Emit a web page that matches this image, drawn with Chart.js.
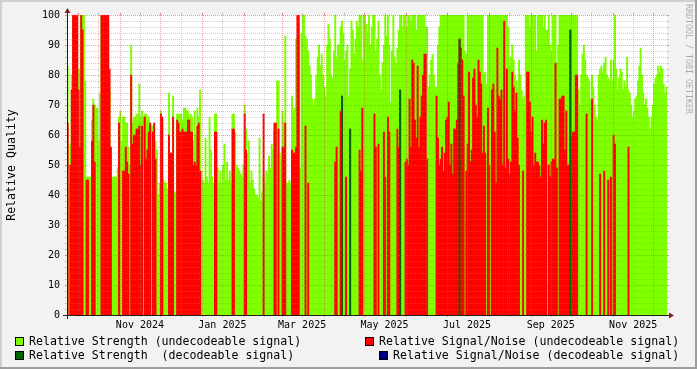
<!DOCTYPE html>
<html><head><meta charset="utf-8">
<script src="https://cdn.jsdelivr.net/npm/chart.js@4.4.1/dist/chart.umd.min.js"></script>
<style>html,body{margin:0;padding:0;background:#f2f2f2;}canvas{display:block;}</style>
</head><body>
<canvas id="c" width="697" height="369"></canvas>
<script>
// ---------------- DATA ----------------
const startDate = '2024-09-23';   // first day of the series (one value per day)
const strengthUndecodeable = [
83,44,57,80,100,100,100,100,82,82,
100,100,100,78,46,46,46,46,65,72,
70,69,69,58,74,100,100,100,100,100,
98,76,46,46,46,46,46,49,66,68,
58,66,66,64,64,56,50,90,64,66,
66,67,67,77,66,68,66,67,67,65,
66,62,63,63,62,58,55,40,44,68,
46,45,44,44,42,74,45,41,73,41,
41,67,67,67,67,65,69,69,68,68,
66,67,66,58,68,60,69,66,75,48,
45,44,59,46,44,66,55,46,44,67,
67,49,44,48,44,50,57,45,51,45,
48,44,67,67,61,50,49,48,47,46,
50,70,62,54,58,44,48,45,42,40,
40,39,59,38,41,46,44,48,47,53,
49,57,55,61,62,78,78,54,52,68,
64,93,44,44,45,44,73,68,69,92,
92,96,49,94,100,100,93,92,88,83,
80,72,70,72,80,86,90,83,87,80,
76,73,90,97,92,80,79,88,100,86,
90,90,96,98,94,85,88,90,73,82,
98,95,87,92,98,96,100,100,85,100,
100,97,94,100,90,96,100,100,88,92,
98,80,75,84,90,100,93,100,90,71,
88,100,86,84,89,95,100,100,96,100,
100,96,100,100,98,100,100,100,95,100,
100,100,100,100,100,96,96,76,80,85,
87,80,76,76,90,96,100,100,100,100,
100,100,100,100,100,100,100,100,100,100,
100,100,100,100,88,87,100,100,100,100,
100,100,100,100,100,100,100,100,80,81,
77,100,100,100,100,100,100,100,100,100,
100,100,100,100,100,100,96,83,86,90,
85,80,78,75,85,80,75,72,73,100,
100,100,96,100,100,100,100,88,100,100,
100,100,96,100,95,95,100,90,88,100,
100,100,84,90,100,100,100,100,100,100,
100,100,100,100,100,100,100,100,75,70,
80,87,90,85,80,79,78,72,80,76,
70,66,65,80,82,83,81,84,86,80,
79,78,85,78,85,100,82,75,79,82,
81,75,78,76,86,75,74,70,66,68,
72,73,78,83,89,80,74,70,72,69,
66,62,66,70,77,79,80,83,81,83,
82,77,74,76
];
const snrUndecodeable = [
64,0,50,75,100,100,100,100,75,56,
100,95,0,0,45,45,0,0,58,70,
51,0,0,0,0,100,100,100,100,100,
100,82,56,0,0,0,0,0,64,0,
0,48,48,56,51,47,0,80,57,60,
60,62,62,63,50,63,0,66,52,55,
61,64,0,61,64,52,0,0,0,67,
66,0,0,0,0,60,54,54,66,0,
0,65,64,61,61,62,61,61,61,65,
65,61,61,50,51,50,63,64,48,0,
0,0,0,0,0,0,0,0,0,61,
61,0,0,0,0,0,0,0,0,0,
0,0,62,62,0,0,0,0,0,0,
0,67,55,0,0,0,0,0,0,0,
0,0,0,0,0,67,0,0,0,0,
0,0,0,64,64,0,62,0,0,56,
56,64,0,0,0,0,55,54,54,56,
100,100,0,0,0,0,63,0,44,0,
0,0,0,0,0,0,0,0,0,0,
0,0,0,0,0,0,0,0,51,56,
0,0,68,73,0,0,46,0,0,62,
0,0,0,0,0,0,55,48,69,0,
0,0,0,0,0,0,0,67,56,0,
57,0,0,0,61,46,0,66,61,0,
0,0,0,0,62,56,75,0,0,0,
51,52,50,72,56,85,84,65,59,83,
56,66,73,80,87,87,52,0,0,0,
0,0,0,73,59,50,52,56,48,54,
65,66,71,50,57,47,62,62,65,84,
92,89,85,73,0,48,57,81,51,55,
79,82,70,66,85,81,77,54,63,54,
0,69,50,0,75,77,61,44,89,73,
72,75,50,98,49,82,52,47,51,81,
76,68,74,59,50,0,0,48,0,0,
81,81,71,61,66,50,54,51,51,50,
46,65,57,64,65,0,50,46,51,52,
52,84,49,0,72,72,73,73,55,68,
50,50,95,60,61,61,80,80,0,0,
0,0,0,0,67,0,0,0,72,0,
0,0,0,0,47,0,0,48,0,0,
45,0,46,0,60,57,0,0,0,0,
0,0,0,0,0,56,0,0,0,0,
0,0,0,0,0,0,0,0,0,0,
0,0,0,0,0,0,0,0,0,0,
0,0,0,0
];
// decodeable signal: only a few days have values
const strengthDecodeableDates = ['2025-04-14','2025-04-20','2025-05-27','2025-07-10','2025-09-30'];
const strengthDecodeableVals  = [73, 62, 75, 92, 95];
const snrDecodeableDates = [];
const snrDecodeableVals  = [];
// x-axis labels (centred half a month after the month start)
const tickDates  = ['2024-11-16','2025-01-16','2025-03-16','2025-05-16','2025-07-16','2025-09-16','2025-11-16'];
const tickLabels = ['Nov 2024','Jan 2025','Mar 2025','May 2025','Jul 2025','Sep 2025','Nov 2025'];
const seriesNames = ['Relative Strength (undecodeable signal)','Relative Signal/Noise (undecodeable signal)',
                     'Relative Strength  (decodeable signal)','Relative Signal/Noise (decodeable signal)'];
const seriesColors = ['#7FFF00','#FF0000','#006400','#000080'];

// ---------------- BUILD ----------------
const DAY = 86400000;
const t0 = Date.parse(startDate + 'T00:00:00Z');
const nDays = strengthUndecodeable.length;
const dayLabels = Array.from({length: nDays}, (_, i) => new Date(t0 + i * DAY).toISOString().slice(0, 10));
const idxOf = s => Math.round((Date.parse(s + 'T00:00:00Z') - t0) / DAY);
const tickIdx = tickDates.map(idxOf);
const nz = a => a.map(v => (v > 0 ? v : null));
function sparse(dates, vals) {
  const a = new Array(nDays).fill(null);
  dates.forEach((d, k) => { a[idxOf(d)] = vals[k]; });
  return a;
}
const monthStarts = [], monthMids = [];
for (let i = 0; i < nDays; i++) {
  const dd = dayLabels[i].slice(8, 10);
  if (dd === '01') monthStarts.push(i);
  if (dd === '16') monthMids.push(i);
}

const FONT = 'DejaVu Sans Mono';
const GRID = 'rgba(143,143,143,0.4)';
const MGRID = 'rgba(222,79,79,0.55)';

const rrdPlugin = {
  id: 'rrd',
  beforeDraw(chart) {
    const c = chart.ctx, W = chart.width, H = chart.height, a = chart.chartArea;
    c.save();
    c.fillStyle = '#F2F2F2'; c.fillRect(0, 0, W, H);
    c.fillStyle = '#CFCFCF'; c.fillRect(0, 0, W, 2); c.fillRect(0, 0, 2, H);
    c.fillStyle = '#9E9E9E'; c.fillRect(0, H - 2, W, 2); c.fillRect(W - 2, 0, 2, H);
    c.fillStyle = '#FFFFFF'; c.fillRect(a.left, a.top, a.right - a.left, a.bottom - a.top);
    c.restore();
  },
  afterDatasetsDraw(chart) {
    const c = chart.ctx, a = chart.chartArea, xs = chart.scales.x, ys = chart.scales.y;
    const half = (xs.getPixelForValue(1) - xs.getPixelForValue(0)) / 2;
    c.save();
    // horizontal grid
    for (let v = 2; v <= 100; v += 2) {
      const y = Math.round(ys.getPixelForValue(v));
      const col = v % 10 === 0 ? MGRID : GRID;
      c.fillStyle = col;
      for (let x = a.left - 2; x < a.right + 2; x += 2) c.fillRect(x, y, 1, 1);
      c.fillRect(a.left - 2, y, 2, 1); c.fillRect(a.right, y, 2, 1);
    }
    // vertical grid
    const vline = (i, col) => {
      const x = Math.round(xs.getPixelForValue(i) - half);
      c.fillStyle = col;
      for (let y = a.top - 2; y < a.bottom + 2; y += 2) c.fillRect(x, y, 1, 1);
      c.fillRect(x, a.bottom, 1, 2); c.fillRect(x, a.top - 2, 1, 2);
    };
    monthMids.forEach(i => vline(i, GRID));
    monthStarts.forEach(i => vline(i, MGRID));
    // axes
    const x0 = a.left, y0 = a.bottom, x1 = a.right, y1 = a.top;
    c.strokeStyle = '#202020'; c.lineWidth = 1;
    c.beginPath(); c.moveTo(x0 - 4, y0 + 0.5); c.lineTo(x1 + 4, y0 + 0.5); c.stroke();
    c.beginPath(); c.moveTo(x0 + 0.5, y0 + 4); c.lineTo(x0 + 0.5, y1 - 4); c.stroke();
    c.fillStyle = '#802020';
    c.beginPath(); c.moveTo(x1 + 2, y0 - 3 + 0.5); c.lineTo(x1 + 2, y0 + 3 + 0.5); c.lineTo(x1 + 7, y0 + 0.5); c.closePath(); c.fill();
    c.beginPath(); c.moveTo(x0 - 3 + 0.5, y1 - 2); c.lineTo(x0 + 3 + 0.5, y1 - 2); c.lineTo(x0 + 0.5, y1 - 7); c.closePath(); c.fill();
    c.restore();
  },
  afterDraw(chart) {
    const c = chart.ctx;
    c.save();
    c.font = '11.6px "' + FONT + '"';
    c.textBaseline = 'alphabetic';
    const items = [
      {bx: 15, by: 337, tx: 29, ty: 345, k: 0},
      {bx: 365, by: 337, tx: 379, ty: 345, k: 1},
      {bx: 15, by: 351, tx: 29, ty: 359, k: 2},
      {bx: 379, by: 351, tx: 393, ty: 359, k: 3}
    ];
    items.forEach(it => {
      c.fillStyle = seriesColors[it.k];
      c.fillRect(it.bx, it.by, 9, 9);
      c.strokeStyle = '#000'; c.lineWidth = 1;
      c.strokeRect(it.bx + 0.5, it.by + 0.5, 8, 8);
      c.fillStyle = '#000';
      c.fillText(seriesNames[it.k], it.tx, it.ty);
    });
    // watermark
    c.translate(688, 4);
    c.rotate(Math.PI / 2);
    c.font = '8.3px "' + FONT + '"';
    c.fillStyle = 'rgba(0,0,0,0.3)';
    c.textBaseline = 'middle';
    c.fillText('RRDTOOL / TOBI OETIKER', 0, 0);
    c.restore();
  }
};

const barDefaults = {barPercentage: 1, categoryPercentage: 1, grouped: false, borderWidth: 0, inflateAmount: 0.3};

new Chart(document.getElementById('c'), {
  type: 'bar',
  data: {
    labels: dayLabels,
    datasets: [
      Object.assign({label: seriesNames[0], data: nz(strengthUndecodeable), backgroundColor: seriesColors[0], order: 4}, barDefaults),
      Object.assign({label: seriesNames[1], data: nz(snrUndecodeable), backgroundColor: seriesColors[1], order: 3}, barDefaults),
      Object.assign({label: seriesNames[2], data: sparse(strengthDecodeableDates, strengthDecodeableVals), backgroundColor: seriesColors[2], order: 2}, barDefaults),
      Object.assign({label: seriesNames[3], data: sparse(snrDecodeableDates, snrDecodeableVals), backgroundColor: seriesColors[3], order: 1}, barDefaults)
    ]
  },
  options: {
    responsive: false, animation: false, devicePixelRatio: 1,
    layout: {padding: {top: 15, right: 30, bottom: 0, left: 0}},
    plugins: {legend: {display: false}, tooltip: {enabled: false}, title: {display: false}},
    scales: {
      x: {
        type: 'category', offset: true,
        grid: {display: false, drawTicks: false}, border: {display: false},
        ticks: {
          autoSkip: false, maxRotation: 0, minRotation: 0, padding: 4, labelOffset: -0.7,
          color: '#000', font: {family: FONT, size: 10},
          callback(v, i) { const k = tickIdx.indexOf(i); return k >= 0 ? tickLabels[k] : ''; }
        },
        afterFit(s) { s.height = 54; }
      },
      y: {
        min: 0, max: 100,
        grid: {display: false, drawTicks: false}, border: {display: false},
        ticks: {stepSize: 10, padding: 7, color: '#000', font: {family: FONT, size: 10}},
        title: {display: true, text: 'Relative Quality', color: '#000', font: {family: FONT, size: 11.6}, padding: {top: 5, bottom: 0}},
        afterFit(s) { s.width = 67; }
      }
    }
  },
  plugins: [rrdPlugin]
});
</script>
</body></html>
